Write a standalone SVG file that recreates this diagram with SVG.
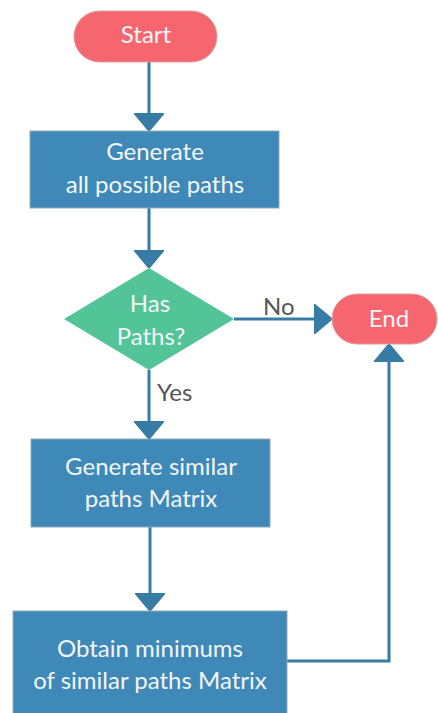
<svg xmlns="http://www.w3.org/2000/svg" width="438" height="713" viewBox="0 0 438 713">
  <style>
    .term { fill: #f6666f; stroke: #d9a0a4; stroke-width: 1; }
    .proc { fill: #3e89b8; stroke: #8fa9ba; stroke-width: 1; }
    .dec { fill: #52c497; }
    .lbl { font-family: Lato, "Open Sans", sans-serif; font-size: 24px; fill: #f3f6f9; text-anchor: middle; }
    .edge-lbl { font-family: Lato, "Open Sans", sans-serif; font-size: 24px; fill: #555555; }
    .wire { fill: none; stroke: #367ca4; stroke-width: 3; marker-end: url(#head); }
  </style>
  <defs>
    <marker id="head" viewBox="0 0 18 30" refX="8" refY="15" markerWidth="18" markerHeight="30" markerUnits="userSpaceOnUse" orient="auto">
      <path d="M0,0 L18,15 L0,30 Z" fill="#367ca4" stroke="#367ca4" stroke-width="1.5" stroke-linejoin="round"/>
    </marker>
  </defs>

  <!-- connectors -->
  <g id="connectors">
    <path class="wire" d="M149,62 L149,121"/>
    <path class="wire" d="M149,208 L149,258"/>
    <path class="wire" d="M149,370 L149,429"/>
    <path class="wire" d="M150,527 L150,601"/>
    <path class="wire" d="M234,319 L322,319"/>
    <path class="wire" d="M287,661 L389,661 L389,354"/>
    <text class="edge-lbl" x="263" y="315">No</text>
    <text class="edge-lbl" x="157" y="401">Yes</text>
  </g>

  <g id="start">
    <rect class="term" x="74" y="11" width="143" height="51" rx="25.5"/>
    <text class="lbl" x="146" y="43">Start</text>
  </g>

  <g id="generate-paths">
    <rect class="proc" x="30" y="131" width="249" height="77"/>
    <text class="lbl" x="155" y="160">Generate</text>
    <text class="lbl" x="155" y="193">all possible paths</text>
  </g>

  <g id="has-paths">
    <polygon class="dec" points="149,268 234,319 149,370 64,319"/>
    <text class="lbl" x="150" y="312">Has</text>
    <text class="lbl" x="151" y="345">Paths?</text>
  </g>

  <g id="end">
    <rect class="term" x="332" y="294" width="105" height="50" rx="25"/>
    <text class="lbl" x="389" y="327">End</text>
  </g>

  <g id="similar-matrix">
    <rect class="proc" x="31" y="439" width="239" height="88"/>
    <text class="lbl" x="151" y="475">Generate similar</text>
    <text class="lbl" x="151" y="507">paths Matrix</text>
  </g>

  <g id="obtain-minimums">
    <rect class="proc" x="13" y="611" width="274" height="110"/>
    <text class="lbl" x="150" y="657">Obtain minimums</text>
    <text class="lbl" x="150" y="689">of similar paths Matrix</text>
  </g>
</svg>
